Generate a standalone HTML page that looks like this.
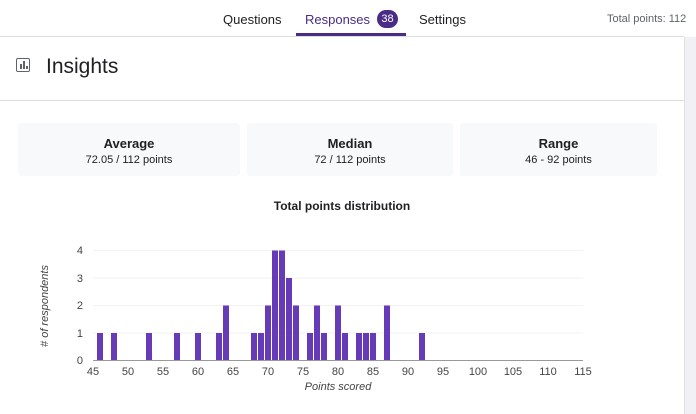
<!DOCTYPE html><html><head><style>
body{margin:0;width:696px;height:414px;background:#fff;font-family:"Liberation Sans",sans-serif;position:relative;overflow:hidden;color:#202124}
.a{position:absolute}
.card{position:absolute;top:123px;height:53px;background:#f8f9fa;text-align:center;border-radius:3px}
.card b{display:block;font-size:13px;margin-top:13px;font-weight:bold}
.card span{display:block;font-size:11px;margin-top:3px}
</style></head><body>
<div class="a" style="left:0;top:36px;width:684px;height:1px;background:#dadce0"></div>
<div class="a" style="left:684px;top:37px;width:12px;height:377px;background:#f1f1f5;border-left:1px solid #e0e0e0"></div>
<div class="a" style="left:223px;top:12px;font-size:13px">Questions</div>
<div class="a" style="left:305px;top:12px;font-size:13px;color:#4a2c87">Responses</div>
<div class="a" style="left:377px;top:10px;width:21px;height:18px;border-radius:9px;background:#4a2c87;color:#fff;font-size:11px;text-align:center;line-height:18px">38</div>
<div class="a" style="left:296px;top:33px;width:110px;height:3px;background:#4a2c87"></div>
<div class="a" style="left:419px;top:12px;font-size:13px">Settings</div>
<div class="a" style="left:607px;top:13px;font-size:11px;color:#5f6368">Total points: 112</div>
<div class="a" style="left:16px;top:58px;width:14px;height:14px;border:1.5px solid #5f6368;box-sizing:border-box;border-radius:2px"></div>
<div class="a" style="left:20px;top:64px;width:1.5px;height:5px;background:#5f6368"></div>
<div class="a" style="left:23px;top:61px;width:1.5px;height:8px;background:#5f6368"></div>
<div class="a" style="left:26px;top:66px;width:1.5px;height:3px;background:#5f6368"></div>
<div class="a" style="left:46px;top:55px;font-size:21px">Insights</div>
<div class="a" style="left:0;top:100px;width:684px;height:1px;background:#dadce0"></div>
<div class="card" style="left:18px;width:222px"><b>Average</b><span>72.05 / 112 points</span></div>
<div class="card" style="left:247px;width:206px"><b>Median</b><span>72 / 112 points</span></div>
<div class="card" style="left:460px;width:197px"><b>Range</b><span>46 - 92 points</span></div>
<div class="a" style="left:0;width:684px;top:199px;text-align:center;font-size:12px;font-weight:bold;color:#202124">Total points distribution</div>
<svg class="a" style="left:0;top:0" width="696" height="414" font-family="Liberation Sans" font-size="11" fill="#444">
<g stroke="#f2f2f2"><line x1="93" x2="583" y1="250.5" y2="250.5"/><line x1="93" x2="583" y1="278" y2="278"/><line x1="93" x2="583" y1="305.5" y2="305.5"/><line x1="93" x2="583" y1="333" y2="333"/></g>
<g text-anchor="end"><text x="83" y="254">4</text><text x="83" y="282">3</text><text x="83" y="309">2</text><text x="83" y="337">1</text><text x="83" y="364">0</text></g>
<g fill="#673ab7" id="b"></g>
<line x1="93" x2="583" y1="360.5" y2="360.5" stroke="#999"/>
<g text-anchor="middle" id="t"></g>
<text x="338" y="390" text-anchor="middle" font-style="italic">Points scored</text>
<text transform="translate(48,306) rotate(-90)" text-anchor="middle" font-style="italic">#  of respondents</text>
</svg>
<script>
var d={46:1,48:1,53:1,57:1,60:1,63:1,64:2,68:1,69:1,70:2,71:4,72:4,73:3,74:2,76:1,77:2,78:1,80:2,81:1,83:1,84:1,85:1,87:2,92:1};
var s='';for(var k in d){var x=93+(k-45)*7-3.5+0.5,h=d[k]*27.5;s+='<rect x="'+x+'" y="'+(360.5-h)+'" width="6" height="'+h+'"/>';}
document.getElementById('b').innerHTML=s;
var t='';for(var v=45;v<=115;v+=5)t+='<text x="'+(93+(v-45)*7)+'" y="375">'+v+'</text>';
document.getElementById('t').innerHTML=t;
</script>
</body></html>
